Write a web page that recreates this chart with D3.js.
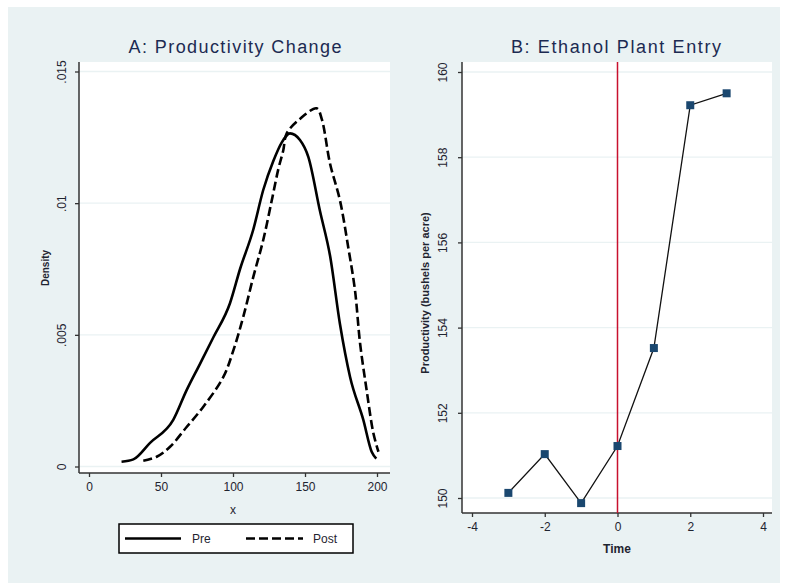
<!DOCTYPE html>
<html>
<head>
<meta charset="utf-8">
<script src="https://cdn.jsdelivr.net/npm/d3@7"></script>
<style>
  body { margin: 0; background: #fff; }
  svg { display: block; font-family: "Liberation Sans", Arial, sans-serif; }
  .tick text { font-size: 12px; fill: #1f2430; }
  .tick line { stroke: #333; stroke-width: 1.3; }
  .title { font-size: 18px; fill: #1c2a52; }
  .axis-title { font-size: 12px; fill: #1f2430; }
</style>
</head>
<body>
<svg id="chart" width="788" height="583"></svg>
<script>
// Panel A: kernel densities of productivity
const preX  = [22.6, 30.8, 42.4, 58.5, 67.8, 77.1, 86.3, 97.9, 104.9, 114.1, 121, 128, 133.8, 139.6, 146.5, 152.3, 160.4, 167.4, 174.3, 181.3, 190.5, 196.3, 199.5];
const preY  = [0.00018, 0.00027, 0.0009, 0.00177, 0.0029, 0.0039, 0.0049, 0.0062, 0.0075, 0.009, 0.0105, 0.0116, 0.0123, 0.01265, 0.0124, 0.01176, 0.0097, 0.008, 0.0054, 0.0034, 0.00177, 0.00056, 0.0003];
const postX = [37.7, 47, 56.3, 67.8, 79.4, 93.3, 100.2, 107.2, 114.1, 121, 126.9, 131.5, 134.9, 137.3, 146.5, 158.1, 161.6, 167.4, 174.3, 180.1, 184.7, 188.2, 192.8, 197.5, 201];
const postY = [0.00022, 0.00037, 0.00075, 0.0015, 0.00227, 0.0034, 0.0044, 0.0057, 0.0072, 0.0086, 0.0101, 0.0113, 0.012, 0.01265, 0.0132, 0.0136, 0.0132, 0.0115, 0.0101, 0.0083, 0.0067, 0.0047, 0.0029, 0.00126, 0.00056];
const densTicks = [0, 0.005, 0.01, 0.015];
const densLabels = ["0", ".005", ".01", ".015"];
const xTicksA = [0, 50, 100, 150, 200];

// Panel B: productivity around ethanol plant entry
const time = [-3, -2, -1, 0, 1, 2, 3];
const productivity = [150.12, 151.03, 149.88, 151.22, 153.52, 159.22, 159.5];
const prodTicks = [150, 152, 154, 156, 158, 160];
const xTicksB = [-4, -2, 0, 2, 4];

const svg = d3.select("#chart");

// graph region background
svg.append("rect")
    .attr("x", 8).attr("y", 7)
    .attr("width", 772).attr("height", 576)
    .attr("fill", "#eaf2f3");

function panel(box, x, y, xTicks, yTicks, yFmt, labOffset) {
    const g = svg.append("g");
    g.append("rect")
        .attr("x", box.left).attr("y", box.top)
        .attr("width", box.right - box.left).attr("height", box.bottom - box.top)
        .attr("fill", "#fff");

    // grid lines
    g.append("g").selectAll("line")
        .data(yTicks)
        .join("line")
        .attr("x1", box.left).attr("x2", box.right)
        .attr("y1", d => y(d)).attr("y2", d => y(d))
        .attr("stroke", "#eaf2f3").attr("stroke-width", 1.3);

    const xAxis = g.append("g")
        .attr("transform", `translate(0,${box.bottom})`)
        .call(d3.axisBottom(x).tickValues(xTicks).tickSize(4).tickPadding(5).tickFormat(d => d));
    xAxis.select(".domain").remove();

    const yAxis = g.append("g")
        .attr("transform", `translate(${box.left},0)`)
        .call(d3.axisLeft(y).tickValues(yTicks).tickSize(4).tickFormat(yFmt));
    yAxis.select(".domain").remove();
    yAxis.selectAll("text")
        .attr("transform", "rotate(-90)")
        .attr("x", 0).attr("y", -labOffset).attr("dy", 0)
        .attr("text-anchor", "middle");

    // axis lines
    g.append("line")
        .attr("x1", box.left).attr("x2", box.left)
        .attr("y1", box.top).attr("y2", box.bottom)
        .attr("stroke", "#333").attr("stroke-width", 1.5);
    g.append("line")
        .attr("x1", box.left).attr("x2", box.right)
        .attr("y1", box.bottom).attr("y2", box.bottom)
        .attr("stroke", "#333").attr("stroke-width", 1.5);
    return g;
}

// ---- Panel A ----
const boxA = {left: 79, right: 390, top: 62, bottom: 473};
const xA = d3.scaleLinear().domain([0, 200]).range([89, 377]);
const yA = d3.scaleLinear().domain([0, 0.015]).range([466.5, 71.5]);
const gA = panel(boxA, xA, yA, xTicksA, densTicks, d => densLabels[densTicks.indexOf(d)], 13);

const lineA = d3.line().x(d => xA(d[0])).y(d => yA(d[1])).curve(d3.curveMonotoneX);
gA.append("path")
    .datum(preX.map((v, i) => [v, preY[i]]))
    .attr("d", lineA)
    .attr("fill", "none").attr("stroke", "#000").attr("stroke-width", 2.6);
gA.append("path")
    .datum(postX.map((v, i) => [v, postY[i]]))
    .attr("d", lineA.curve(d3.curveCatmullRom))
    .attr("fill", "none").attr("stroke", "#000").attr("stroke-width", 2.6)
    .attr("stroke-dasharray", "9,4");

svg.append("text").attr("class", "title")
    .attr("x", 235).attr("y", 53).attr("text-anchor", "middle")
    .attr("textLength", 213).attr("lengthAdjust", "spacing")
    .text("A: Productivity Change");
svg.append("text").attr("class", "axis-title")
    .attr("x", 233).attr("y", 514).attr("text-anchor", "middle")
    .text("x");
svg.append("text").attr("class", "axis-title")
    .attr("transform", `translate(49,268) rotate(-90)`)
    .attr("text-anchor", "middle").style("font-size", "10px").style("font-weight", "bold")
    .text("Density");

// legend
const leg = svg.append("g");
leg.append("rect")
    .attr("x", 119).attr("y", 524).attr("width", 234).attr("height", 29)
    .attr("fill", "#fff").attr("stroke", "#000").attr("stroke-width", 1.5);
leg.append("line")
    .attr("x1", 125).attr("x2", 181).attr("y1", 538.5).attr("y2", 538.5)
    .attr("stroke", "#000").attr("stroke-width", 2.6);
leg.append("text").attr("class", "axis-title")
    .attr("x", 192).attr("y", 542.5).text("Pre");
leg.append("line")
    .attr("x1", 246).attr("x2", 303).attr("y1", 538.5).attr("y2", 538.5)
    .attr("stroke", "#000").attr("stroke-width", 2.6)
    .attr("stroke-dasharray", "9,4");
leg.append("text").attr("class", "axis-title")
    .attr("x", 313).attr("y", 542.5).text("Post");

// ---- Panel B ----
const boxB = {left: 462, right: 772, top: 62, bottom: 513};
const xB = d3.scaleLinear().domain([-4, 4]).range([472, 763]);
const yB = d3.scaleLinear().domain([150, 160]).range([498, 72]);
const gB = panel(boxB, xB, yB, xTicksB, prodTicks, d => d, 15);

gB.append("line")
    .attr("x1", xB(0)).attr("x2", xB(0))
    .attr("y1", boxB.top).attr("y2", boxB.bottom)
    .attr("stroke", "#c8102e").attr("stroke-width", 1.5);

const pts = time.map((t, i) => [t, productivity[i]]);
gB.append("path")
    .datum(pts)
    .attr("d", d3.line().x(d => xB(d[0])).y(d => yB(d[1])))
    .attr("fill", "none").attr("stroke", "#111").attr("stroke-width", 1.3);
gB.append("g").selectAll("rect")
    .data(pts)
    .join("rect")
    .attr("x", d => xB(d[0]) - 4).attr("y", d => yB(d[1]) - 4)
    .attr("width", 8).attr("height", 8)
    .attr("fill", "#1a476f");

svg.append("text").attr("class", "title")
    .attr("x", 616).attr("y", 53).attr("text-anchor", "middle")
    .attr("textLength", 210).attr("lengthAdjust", "spacing")
    .text("B: Ethanol Plant Entry");
svg.append("text").attr("class", "axis-title")
    .attr("x", 617).attr("y", 553).attr("text-anchor", "middle")
    .style("font-weight", "bold")
    .text("Time");
svg.append("text").attr("class", "axis-title")
    .attr("transform", `translate(429,293) rotate(-90)`)
    .attr("text-anchor", "middle").style("font-size", "11px").style("font-weight", "bold")
    .text("Productivity (bushels per acre)");
</script>
</body>
</html>
